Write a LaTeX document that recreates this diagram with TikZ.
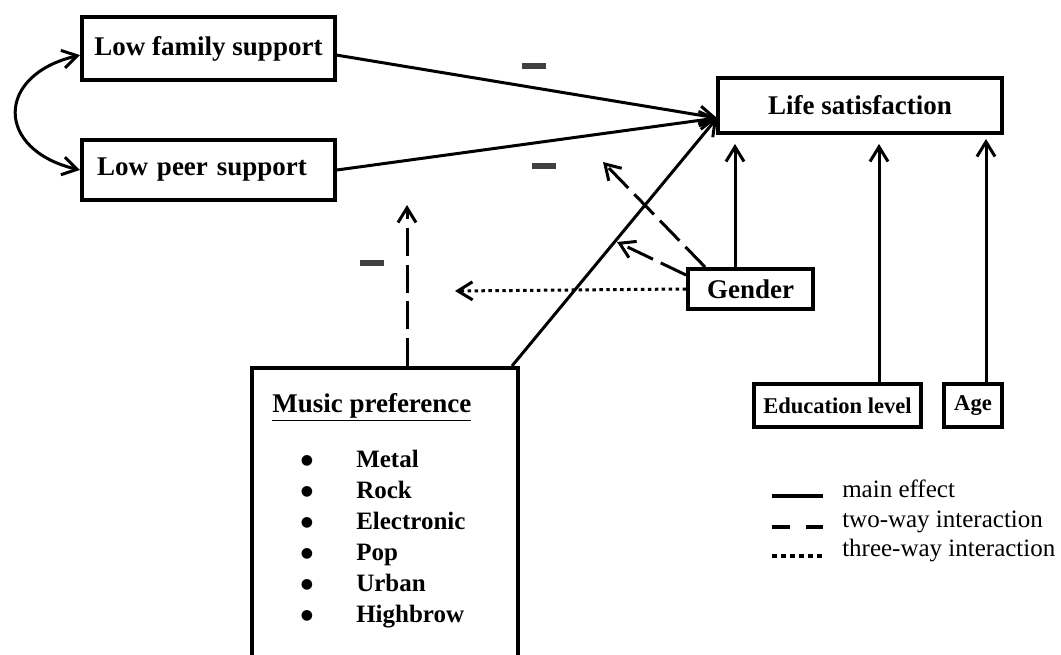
\documentclass[tikz,border=0pt]{standalone}
\usepackage{fontspec}
\setmainfont{Liberation Serif}
\newfontfamily\symfont{DejaVu Sans}
\usetikzlibrary{arrows.meta,calc}
\newcommand\fBig{\fontsize{20.25}{24}\selectfont\bfseries}
\newcommand\fMid{\fontsize{18.75}{22}\selectfont\bfseries}
\newcommand\fSml{\fontsize{16.9}{20}\selectfont\bfseries}
\newcommand\fLeg{\fontsize{18.75}{22}\selectfont}
\newcommand\fBul{\symfont\fontsize{10.5}{12}\selectfont}
\definecolor{minusgray}{HTML}{404040}
\begin{document}
\begin{tikzpicture}[x=0.75pt,y=-0.75pt,
  box/.style={draw, line width=3pt, rectangle, inner sep=0pt},
  arr/.style={line width=2.25pt, -{Straight Barb[length=11pt,width=13.5pt]}},
  dsh/.style={arr, dash pattern=on 21pt off 6.5pt},
  dottedarr/.style={arr, dash pattern=on 2.6pt off 2.6pt},
  minusbar/.style={fill=minusgray, minimum width=18pt, minimum height=4.5pt, inner sep=0pt},
  legtext/.style={anchor=base west, inner sep=0pt, font=\fLeg},
  bulletmark/.style={anchor=base, inner sep=0pt, font=\fBul}
  ]
\useasboundingbox (0,0) rectangle (1061,655);
\clip (0,0) rectangle (1061,655);

% boxes
\node[box, minimum width=189.75pt, minimum height=47.25pt, font=\fBig] (fam) at (208.5,48.5) {Low family support};
\node[box, minimum height=45pt, text width=167.25pt, inner xsep=11.25pt, align=left, font=\fBig] (peer) at (208.5,170) {Low peer support};
\node[box, minimum width=213pt, minimum height=41.25pt, font=\fBig] (life) at (860,105.5) {Life satisfaction};
\node[box, minimum width=93.75pt, minimum height=30pt, font=\fBig] (gender) at (750.5,289) {Gender};
\node[box, minimum width=125.25pt, minimum height=32.25pt, font=\fSml] (edu) at (837.5,405.5) {Education level};
\node[box, minimum width=43.5pt, minimum height=32.25pt, font=\fSml] (age) at (973,405.5) {Age};
\node[box, minimum width=199.5pt, minimum height=249pt] (music) at (385,534) {};

% music text
\node[anchor=base west, inner sep=0pt, font=\fBig] (mtitle) at (272,413) {\underline{Music preference}};
\foreach \t/\y [count=\i] in {Metal/468, Rock/499, Electronic/530, Pop/561, Urban/592, Highbrow/623} {
  \node[anchor=base west, inner sep=0pt, font=\fMid] (item\i) at (356,\y) {\t};
  \node[bulletmark] (bul\i) at (307,\y-3) {●};
}

% minus signs
\node[minusbar] (m1) at (534,66) {};
\node[minusbar] (m2) at (543.5,166) {};
\node[minusbar] (m3) at (372,263) {};

% connectors
\coordinate (hub) at (717,118);
\draw[arr] ([yshift=-5pt]fam.east) -- (hub);
\draw[arr] (peer.east) -- (hub);
\draw[arr] ([xshift=-6pt]music.north east) -- (hub);
\draw[line width=2.25pt, {Straight Barb[length=11pt,width=13.5pt]}-{Straight Barb[length=11pt,width=13.5pt]}]
  ([yshift=-5pt]fam.west) .. controls (-5,75) and (-5,150) .. (peer.west);

\coordinate (mup) at (407,205);
\draw[dsh] ([xshift=16.5pt]music.north) -- (mup);

\coordinate (g1) at (603,162);
\coordinate (g2) at (617,242);
\coordinate (g3) at (455,291);
\draw[dsh] ([xshift=14.25pt]gender.north west) -- (g1);
\draw[dsh] ([yshift=10.5pt]gender.west) -- (g2);
\draw[dottedarr] (gender.west) -- (g3);

\coordinate (gx) at ($(gender.north)+(-15.5,0)$);
\coordinate (ex) at ($(edu.north)+(41.5,0)$);
\coordinate (ax) at ($(age.north)+(13,0)$);
\draw[arr, shorten >=6.75pt] (gx) -- (gx |- life.south);
\draw[arr, shorten >=6.75pt] (ex) -- (ex |- life.south);
\draw[arr, shorten >=3pt] (ax) -- (ax |- life.south);

% legend
\draw[line width=3pt] (772,496) -- (823,496);
\draw[line width=3pt, dash pattern=on 13.5pt off 12pt] (772,527) -- (823,527);
\draw[line width=3pt, dash pattern=on 3.75pt off 3pt] (772,556) -- (823,556);
\node[legtext] (l1) at (842,498) {main effect};
\node[legtext] (l2) at (842,528) {two-way interaction};
\node[legtext] (l3) at (842,557) {three-way interaction};
\end{tikzpicture}
\end{document}
